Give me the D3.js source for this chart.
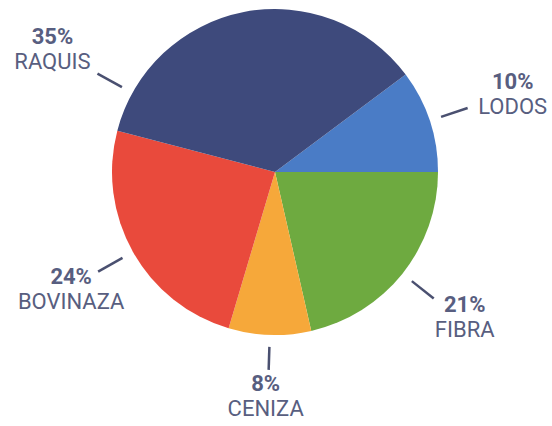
<!DOCTYPE html>
<html>
<head>
<meta charset="utf-8">
<script src="https://cdn.jsdelivr.net/npm/d3@7"></script>
<style>
  body { margin: 0; background: #fff; }
  text { font-family: Roboto, "Open Sans", sans-serif; fill: #585e80; }
</style>
</head>
<body>
<div class="chart"></div>
<script>
// clockwise from the LODOS slice
var categories = ['LODOS', 'FIBRA', 'CENIZA', 'BOVINAZA', 'RAQUIS'];
var values = [10, 21, 8, 24, 35];
var colors = ['#4a7cc6', '#6eaa40', '#f6a83a', '#e94a3c', '#3e4a7c'];

var width = 552, height = 426;
var cx = 275, cy = 172, radius = 163;

var svg = d3.select('.chart')
    .append('svg')
    .attr('width', width)
    .attr('height', height)

var g = svg.append('g')
    .attr('transform', `translate(${cx}, ${cy})`)

var total = d3.sum(values);
// LODOS ends at 3 o'clock
var start = Math.PI / 2 - values[0] / total * 2 * Math.PI;

var pie = d3.pie()
    .sort(null)
    .startAngle(start)
    .endAngle(start + 2 * Math.PI)
    .value(d => d)

var arc = d3.arc().innerRadius(0).outerRadius(radius)

var arcs = pie(values)

g.selectAll('path.slice')
    .data(arcs)
    .enter()
    .append('path')
    .attr('class', 'slice')
    .attr('d', arc)
    .style('fill', (d, i) => colors[i])

// leader line angle (deg) and text offset from the line's outer end
var labelLayout = {
  LODOS:    { angle: null, dx: 45,  dy: -19, rOut: 203 },
  FIBRA:    { angle: null, dx: 31,  dy: 13,  rOut: 203 },
  CENIZA:   { angle: null, dx: -3,  dy: 21,  rOut: 198 },
  BOVINAZA: { angle: null, dx: -27, dy: 12,  rOut: 203 },
  RAQUIS:   { angle: 299,  dx: -45, dy: -30, rOut: 203 }
};

var rIn = 175;
function pt(a, r) { return [Math.sin(a) * r, -Math.cos(a) * r]; }

arcs.forEach(function(d, i) {
  var name = categories[i];
  var lay = labelLayout[name];
  var a = lay.angle != null ? lay.angle * Math.PI / 180 : (d.startAngle + d.endAngle) / 2;
  var p0 = pt(a, rIn), p1 = pt(a, lay.rOut);
  g.append('line')
      .attr('x1', p0[0]).attr('y1', p0[1])
      .attr('x2', p1[0]).attr('y2', p1[1])
      .style('stroke', '#4a5070')
      .style('stroke-width', 2.5)
  var tx = p1[0] + lay.dx, ty = p1[1] + lay.dy;
  g.append('text')
      .attr('x', tx).attr('y', ty)
      .attr('text-anchor', 'middle')
      .style('font-size', '22px')
      .style('font-weight', 'bold')
      .text(values[i] + '%')
  g.append('text')
      .attr('x', tx).attr('y', ty + 25)
      .attr('text-anchor', 'middle')
      .style('font-size', '22px')
      .text(name)
})
</script>
</body>
</html>
